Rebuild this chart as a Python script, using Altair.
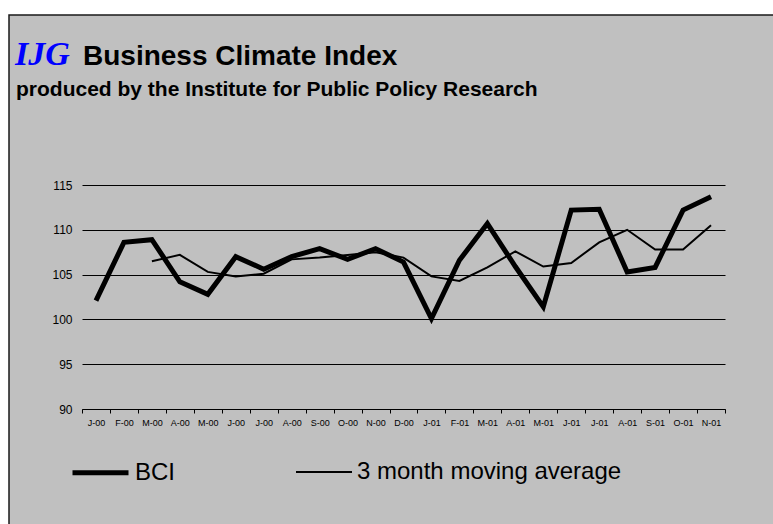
import altair as alt
import pandas as pd

labels = ["J-00", "F-00", "M-00", "A-00", "M-00", "J-00", "J-00", "A-00", "S-00", "O-00", "N-00", "D-00",
          "J-01", "F-01", "M-01", "A-01", "M-01", "J-01", "J-01", "A-01", "S-01", "O-01", "N-01"]
bci = [102.1, 108.6, 108.9, 104.2, 102.8, 107.0, 105.6, 107.0, 107.9, 106.7, 107.9, 106.4,
       100.1, 106.6, 110.7, 105.9, 101.4, 112.2, 112.3, 105.3, 105.8, 112.2, 113.7]
ma3 = [None, None, 106.5, 107.2, 105.3, 104.8, 105.1, 106.7, 106.9, 107.2, 107.5, 106.9,
       104.8, 104.3, 105.8, 107.6, 105.9, 106.3, 108.6, 110.0, 107.8, 107.8, 110.5]
series_names = ["BCI", "3 month moving average"]
y_ticks = [90, 95, 100, 105, 110, 115]

rows = []
for i in range(len(labels)):
    rows.append({"idx": i, "series": series_names[0], "value": bci[i]})
    if ma3[i] is not None:
        rows.append({"idx": i, "series": series_names[1], "value": ma3[i]})
df = pd.DataFrame(rows)

label_expr = "[" + ",".join("'" + l + "'" for l in labels) + "][datum.value]"

one = alt.Data(values=[{"k": 1}])

bg = alt.Chart(one).mark_rect(fill="#C0C0C0", stroke="#1a1a1a", strokeWidth=1.5).encode(
    x=alt.value(-73), x2=alt.value(720), y=alt.value(-170), y2=alt.value(360)
)

ijg = alt.Chart(one).mark_text(
    text="IJG", font="Liberation Serif", fontStyle="italic", fontWeight="bold",
    fontSize=34, color="#0000FF", align="left", baseline="alphabetic"
).encode(x=alt.value(-67), y=alt.value(-120))

title = alt.Chart(one).mark_text(
    text="Business Climate Index", font="Liberation Sans", fontWeight="bold",
    fontSize=28, color="black", align="left", baseline="alphabetic"
).encode(x=alt.value(1), y=alt.value(-120))

sub = alt.Chart(one).mark_text(
    text="produced by the Institute for Public Policy Research", font="Liberation Sans",
    fontWeight="bold", fontSize=21, color="black", align="left", baseline="alphabetic"
).encode(x=alt.value(-66), y=alt.value(-89))

lines = alt.Chart(df).mark_line(color="black").encode(
    x=alt.X("idx:O", bandPosition=0.5,
            scale=alt.Scale(type="band", paddingInner=0, paddingOuter=0),
            axis=alt.Axis(labelExpr=label_expr, tickBand="extent", title=None, grid=False,
                          domain=True, domainColor="black", domainWidth=1,
                          ticks=True, tickColor="black", tickSize=4, tickWidth=1,
                          labelFont="Liberation Sans", labelFontSize=9, labelColor="black",
                          labelAngle=0, labelPadding=5, zindex=1)),
    y=alt.Y("value:Q", scale=alt.Scale(domain=[90, 115], nice=False, zero=False),
            axis=alt.Axis(values=y_ticks, title=None, grid=True, gridColor="black", gridWidth=1,
                          domain=False, ticks=False, labelFont="Liberation Sans",
                          labelFontSize=12, labelColor="black", labelPadding=10, zindex=1)),
    strokeWidth=alt.StrokeWidth("series:N",
                                scale=alt.Scale(domain=series_names, range=[5, 2]),
                                legend=alt.Legend(orient="none", legendX=-12, legendY=257,
                                                  direction="horizontal", title=None,
                                                  symbolType="stroke", symbolSize=3136,
                                                  symbolStrokeColor="black",
                                                  labelFont="Liberation Sans", labelFontSize=24,
                                                  labelColor="black", labelOffset=4,
                                                  columnPadding=116, padding=0, labelLimit=500)),
    order="idx:O",
)

chart = alt.layer(bg, ijg, title, sub, lines).properties(
    width=643, height=224,
    autosize=alt.AutoSizeParams(type="none"),
    padding={"left": 82, "top": 185, "right": 48, "bottom": 115},
    background="white",
).configure_view(strokeWidth=0)

chart.save("out.html", embed_options={"renderer": "svg", "actions": False})
